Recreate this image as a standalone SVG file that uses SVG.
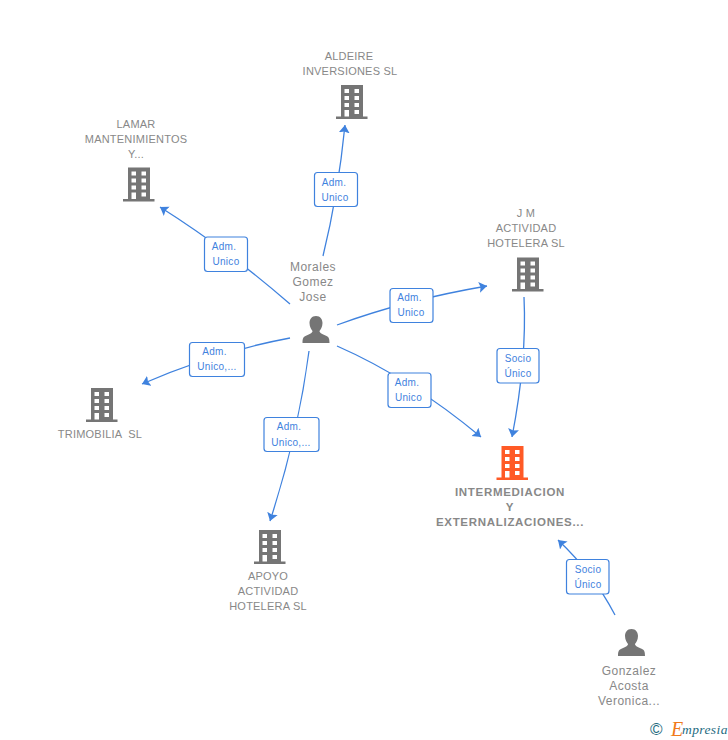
<svg xmlns="http://www.w3.org/2000/svg" width="728" height="740" viewBox="0 0 728 740">
<style>
text{font-family:"Liberation Sans",Arial,sans-serif}
.n{font-size:11px;fill:#888;text-anchor:middle;letter-spacing:.22px;white-space:pre}
.p{font-size:12px;letter-spacing:.5px}
.b{font-weight:bold;font-size:11.5px;letter-spacing:.7px}
.l{font-size:10px;fill:#3f82de;text-anchor:middle;letter-spacing:.3px}
.e{fill:none;stroke:#3f82de;stroke-width:1.3}
.box{fill:#fff;stroke:#3f82de;stroke-width:1.2}
</style>
<defs>
<marker id="a" markerWidth="12" markerHeight="12" refX="8" refY="5.500" orient="auto" markerUnits="userSpaceOnUse"><path d="M0 0L8 5.500L0 11L1.500 5.500Z" fill="#3f82de"/></marker>
<g id="bld">
<path d="M5 0H27V31.500H31.500V34H0V31.500H5Z" fill="currentColor"/>
<path d="M8.500 4h4.500v4h-4.500zM18.500 4h4.500v4h-4.500zM8.500 11h4.500v4h-4.500zM18.500 11h4.500v4h-4.500zM8.500 18h4.500v4h-4.500zM18.500 18h4.500v4h-4.500zM8.500 25h4.500v6.500h-4.500zM18.500 25h4.500v4h-4.500z" fill="#fff"/>
</g>
<g id="per">
<path d="M13.500 0C18 0 20 3.500 20 7C20 11 18 13.500 17 15C17 17 20 18 23 19.500C26 20.500 27 22 27 27H0C0 22 1 20.500 4 19.500C7 18 10 17 10 15C9 13.500 7 11 7 7C7 3.500 9 0 13.500 0Z" fill="#757575"/>
</g>
</defs>
<g id="connectors">
<path class="e" marker-end="url(#a)" d="M323 256Q338 195 345 125"/>
<path class="e" marker-end="url(#a)" d="M290 304Q228 250 160 207"/>
<path class="e" marker-end="url(#a)" d="M337 325Q405 300 487 286"/>
<path class="e" marker-end="url(#a)" d="M290 338Q215 352 142 384"/>
<path class="e" marker-end="url(#a)" d="M309 351Q298 435 270 521"/>
<path class="e" marker-end="url(#a)" d="M337 346Q410 378 481 437"/>
<path class="e" marker-end="url(#a)" d="M524 297Q527 360 512 437"/>
<path class="e" marker-end="url(#a)" d="M615 615Q593 573 558 540"/>
</g>
<g id="edge-labels">
<g><rect class="box" x="314.500" y="172.500" width="43" height="34" rx="3"/><text class="l" x="334" y="186">Adm.</text><text class="l" x="335" y="201">Unico</text></g>
<g><rect class="box" x="204.500" y="237" width="43" height="34.500" rx="3"/><text class="l" x="224" y="250">Adm.</text><text class="l" x="226" y="265">Unico</text></g>
<g><rect class="box" x="390" y="288.500" width="43" height="34" rx="3"/><text class="l" x="409.500" y="301">Adm.</text><text class="l" x="411" y="316">Unico</text></g>
<g><rect class="box" x="189.500" y="342.500" width="55" height="34" rx="3"/><text class="l" x="214.500" y="355">Adm.</text><text class="l" x="217" y="370">Unico,...</text></g>
<g><rect class="box" x="264" y="417.500" width="55" height="34" rx="3"/><text class="l" x="289" y="430">Adm.</text><text class="l" x="291" y="446">Unico,...</text></g>
<g><rect class="box" x="388" y="373" width="43" height="34.500" rx="3"/><text class="l" x="407" y="386">Adm.</text><text class="l" x="408.500" y="401">Unico</text></g>
<g><rect class="box" x="497" y="348.500" width="42" height="34.500" rx="3"/><text class="l" x="518" y="362">Socio</text><text class="l" x="518" y="377">Único</text></g>
<g><rect class="box" x="566.500" y="559.500" width="42.500" height="34.500" rx="3"/><text class="l" x="588" y="573">Socio</text><text class="l" x="588" y="588">Único</text></g>
</g>
<g id="aldeire"><use href="#bld" x="336" y="85" color="#757575"/><text class="n" x="349" y="60">ALDEIRE</text><text class="n" x="350" y="75">INVERSIONES SL</text></g>
<g id="lamar"><use href="#bld" x="123" y="167.500" color="#757575"/><text class="n" x="136" y="128">LAMAR</text><text class="n" x="136" y="143">MANTENIMIENTOS</text><text class="n" x="136" y="158">Y...</text></g>
<g id="jm"><use href="#bld" x="512" y="257.500" color="#757575"/><text class="n" x="526" y="217">J M</text><text class="n" x="526" y="232">ACTIVIDAD</text><text class="n" x="526" y="247">HOTELERA SL</text></g>
<g id="morales"><use href="#per" x="302.500" y="316"/><text class="n p" x="313" y="271">Morales</text><text class="n p" x="313" y="286">Gomez</text><text class="n p" x="313" y="301">Jose</text></g>
<g id="trimobilia"><use href="#bld" x="86" y="388" color="#757575"/><text class="n" x="100" y="438">TRIMOBILIA  SL</text></g>
<g id="apoyo"><use href="#bld" x="254" y="530" color="#757575"/><text class="n" x="268" y="580">APOYO</text><text class="n" x="268" y="595">ACTIVIDAD</text><text class="n" x="268" y="610">HOTELERA SL</text></g>
<g id="intermediacion"><use href="#bld" x="496.500" y="446" color="#ff5a26"/><text class="n b" x="510" y="496">INTERMEDIACION</text><text class="n b" x="510" y="511">Y</text><text class="n b" x="510" y="526">EXTERNALIZACIONES...</text></g>
<g id="gonzalez"><use href="#per" x="618" y="629"/><text class="n p" x="629" y="675">Gonzalez</text><text class="n p" x="629" y="690">Acosta</text><text class="n p" x="629" y="705">Veronica...</text></g>
<g id="logo"><text x="650" y="735" font-size="17" fill="#1e6b80">©</text><text x="671" y="736" font-size="20" font-style="italic" fill="#f07a1a" style="font-family:'Liberation Serif',serif">E</text><text x="682" y="734" font-size="13.500" font-style="italic" letter-spacing=".4" fill="#1e6b80" style="font-family:'Liberation Serif',serif">mpresia</text></g>
</svg>
